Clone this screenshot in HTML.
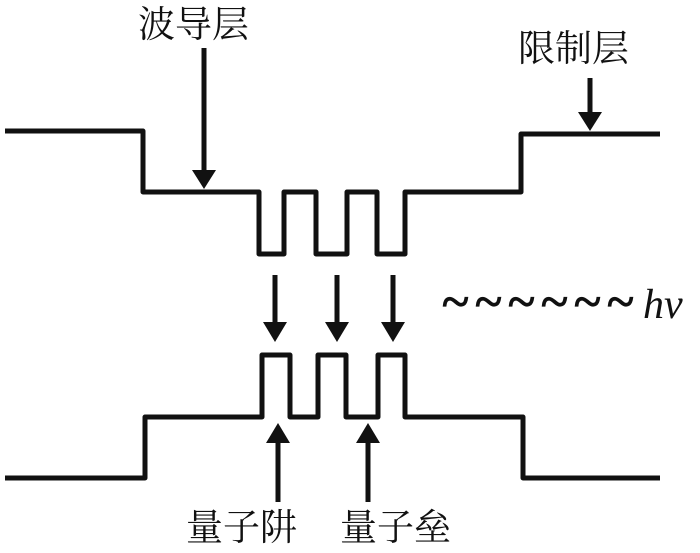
<!DOCTYPE html>
<html><head><meta charset="utf-8"><style>
html,body{margin:0;padding:0;background:#fff;}
svg{display:block}
text{font-family:"Liberation Serif","Noto Serif CJK SC",serif;fill:#111;}
.t{font-size:50px;stroke:#111;stroke-width:1.2;}
</style></head><body>
<svg width="700" height="553" viewBox="0 0 700 553" xmlns="http://www.w3.org/2000/svg">
<g fill="none" stroke="#111" stroke-width="5" stroke-linejoin="round">
<polyline points="5,131 143,131 143,192 259,192 259,254 284,254 284,192 316,192 316,254 347,254 347,192 377,192 377,254 405,254 405,192 521,192 521,134 660,134"/>
<polyline points="5,478 145,478 145,417 262,417 262,355 290,355 290,417 318,417 318,355 346,355 346,417 378,417 378,355 405,355 405,417 523,417 523,478 660,478"/>
</g>
<g fill="#111">
<rect x="201.5" y="48" width="5" height="125"/><path d="M192,170 L216,170 L204,189 Z"/>
<rect x="587.5" y="78" width="5" height="37"/><path d="M578,112 L602,112 L590,131 Z"/>
<rect x="272.5" y="275" width="5" height="50"/><path d="M263,322 L287,322 L275,342 Z"/>
<rect x="334.5" y="275" width="5" height="50"/><path d="M325,322 L349,322 L337,342 Z"/>
<rect x="390.5" y="275" width="5" height="50"/><path d="M381,322 L405,322 L393,342 Z"/>
<rect x="275.5" y="440" width="5" height="62"/><path d="M266,443 L290,443 L278,423 Z"/>
<rect x="365.5" y="440" width="5" height="62"/><path d="M356,443 L380,443 L368,423 Z"/>
</g>
<text x="138" y="37" font-size="37">波导层</text>
<text x="518" y="61" font-size="37">限制层</text>
<text x="186" y="540" font-size="37">量子阱</text>
<text x="340" y="540" font-size="37">量子垒</text>
<text class="t" x="442" y="318">~</text>
<text class="t" x="475" y="318">~</text>
<text class="t" x="508" y="318">~</text>
<text class="t" x="541" y="318">~</text>
<text class="t" x="574" y="318">~</text>
<text class="t" x="607" y="318">~</text>
<text x="643" y="318" font-size="42" font-style="italic">hν</text>
</svg>
</body></html>
